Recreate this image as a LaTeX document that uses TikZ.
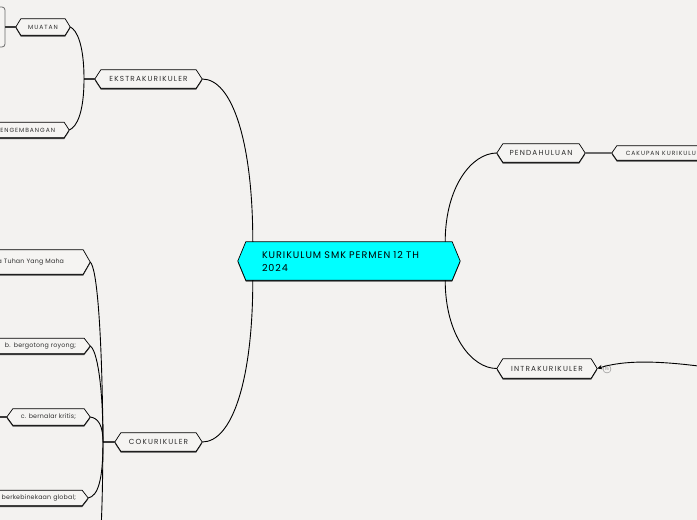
\documentclass[tikz,border=0pt]{standalone}
\usepackage{fontspec}
\setmainfont{Poppins}
\newfontfamily\capsf[LetterSpace=16]{Poppins}
\newfontfamily\rootf[LetterSpace=10]{Poppins}
\newfontfamily\itemf[LetterSpace=3]{Poppins}
\usetikzlibrary{backgrounds,shadows,arrows.meta}
\definecolor{bg}{HTML}{F3F2F0}
\definecolor{nodefill}{HTML}{F5F4F2}
\definecolor{rootfill}{HTML}{00FFFF}
\definecolor{txt}{HTML}{2E2E2E}
\definecolor{stemc}{HTML}{3A3A3A}
\definecolor{graystem}{HTML}{6A6A6A}
\newcommand\hexpath[3]{%
  \path[#3] ([xshift=#2]#1.north west) -- ([xshift=-#2]#1.north east) -- (#1.east)
    -- ([xshift=-#2]#1.south east) -- ([xshift=#2]#1.south west) -- (#1.west) -- cycle;}
\begin{document}
\begin{tikzpicture}[x=1pt,y=-1pt,
  lbl/.style={rectangle, inner sep=0pt, text=txt, font=\capsf\fontsize{7.3}{9}\selectfont},
  lblsmall/.style={lbl, font=\capsf\fontsize{6}{7}\selectfont},
  item/.style={rectangle, inner sep=0pt, text=txt, font=\itemf\fontsize{6.3}{7.5}\selectfont},
  hexbg/.style={fill=nodefill, draw=black, line width=0.7pt, line join=miter,
    drop shadow={shadow xshift=0pt, shadow yshift=-1.4pt, fill=black!75, opacity=1}},
  rootbg/.style={hexbg, fill=rootfill},
  conn/.style={draw=black, line width=0.9pt},
  stem/.style={draw=stemc, line width=1.6pt},
  graystemline/.style={draw=graystem, line width=1.6pt}]
\useasboundingbox (0,0) rectangle (697,520);
% nodes
\node[lbl, text=black, font=\rootf\fontsize{9.6}{13}\selectfont, minimum width=222pt, minimum height=38pt, text width=174pt, align=left] (root) at (349,261) {KURIKULUM SMK PERMEN 12 TH\\2024};
\node[lbl, minimum width=107pt, minimum height=18pt] (ekstra) at (148.5,79) {EKSTRAKURIKULER};
\node[lblsmall, minimum width=54pt, minimum height=16pt] (muatan) at (43,27) {MUATAN};
\node[lblsmall, minimum width=108pt, minimum height=15pt, text width=80pt, align=right] (pengemb) at (15,130) {PENGEMBANGAN};
\node[lbl, minimum width=88pt, minimum height=18pt] (penda) at (541,153) {PENDAHULUAN};
\node[lblsmall, minimum width=104pt, minimum height=14pt] (cakupan) at (664,153) {CAKUPAN KURIKULUM};
\node[lbl, minimum width=100pt, minimum height=19pt] (intra) at (547,368.5) {INTRAKURIKULER};
\node[lbl, minimum width=87pt, minimum height=18pt] (koku) at (158.5,442) {COKURIKULER};
\node[item, minimum width=152pt, minimum height=24pt, text width=100pt, align=right] (pa) at (14,262) {a Tuhan Yang Maha};
\node[item, minimum width=118pt, minimum height=15pt, text width=90pt, align=right] (pb) at (31,346) {b. bergotong royong;};
\node[item, minimum width=83pt, minimum height=16pt] (pc) at (48.5,417) {c. bernalar kritis;};
\node[item, minimum width=114pt, minimum height=15pt, text width=90pt, align=right] (pd) at (31,498) {berkebinekaan global;};
\node[draw=graystem, fill=nodefill, rounded corners=3pt, minimum width=70pt, minimum height=40pt, line width=0.8pt, inner sep=0pt] (box) at (-30,27) {};
\node[circle, draw=gray, fill=bg, inner sep=0pt, minimum size=8pt, text=gray, font=\fontsize{4}{4}\selectfont] (cnt) at (607,369) {15};
% backgrounds and hexagons
\begin{scope}[on background layer]
\fill[bg] (0,0) rectangle (697,520);
\hexpath{root}{8pt}{rootbg}
\hexpath{ekstra}{6pt}{hexbg}
\hexpath{muatan}{5pt}{hexbg}
\hexpath{pengemb}{5pt}{hexbg}
\hexpath{penda}{6pt}{hexbg}
\hexpath{cakupan}{5pt}{hexbg}
\hexpath{intra}{6pt}{hexbg}
\hexpath{koku}{6pt}{hexbg}
\hexpath{pa}{7pt}{hexbg}
\hexpath{pb}{6pt}{hexbg}
\hexpath{pc}{6pt}{hexbg}
\hexpath{pd}{6pt}{hexbg}
\end{scope}
% connectors from root
\draw[conn] ([xshift=15pt]root.north west) .. controls +(0,-100) and +(30,0) .. (ekstra.east);
\draw[conn] ([xshift=15pt]root.south west) .. controls +(0,100) and +(30,0) .. (koku.east);
\draw[conn] ([xshift=-15pt]root.north east) .. controls +(0,-55) and +(-25,0) .. (penda.west);
\draw[conn] ([xshift=-15pt]root.south east) .. controls +(0,55) and +(-25,0) .. (intra.west);
% ekstrakurikuler branch
\coordinate (ej) at (84,79);
\draw[stem] (ekstra.west) -- (ej);
\draw[conn] (ej) .. controls (84,45) and (77,30) .. (muatan.east);
\draw[conn] (ej) .. controls (84,112) and (77,127) .. (pengemb.east);
\draw[stem] (muatan.west) -- (box.east);
% pendahuluan branch
\draw[graystemline] (penda.east) -- (cakupan.west);
% kokurikuler branch
\coordinate (kj) at (103,442);
\draw[stem] (koku.west) -- (kj);
\draw[conn] (kj) .. controls (102,330) and (97,268) .. (pa.east);
\draw[conn] (kj) .. controls (103,385) and (97,350) .. (pb.east);
\draw[conn] (kj) .. controls (103,425) and (98,418) .. (pc.east);
\draw[conn] (kj) .. controls (103,480) and (98,496) .. (pd.east);
\coordinate (kdown) at (70,640);
\draw[conn] (kj) .. controls (102,560) and (99,610) .. (kdown);
\coordinate (cleft) at (-20,417);
\draw[stem] (pc.west) -- (cleft);
% relation into intrakurikuler
\coordinate (rel) at (720,369);
\draw[conn, -{Stealth[length=5pt,width=4.5pt]}] (rel) .. controls (660,360) and (625,360) .. (intra.east);
\end{tikzpicture}
\end{document}
